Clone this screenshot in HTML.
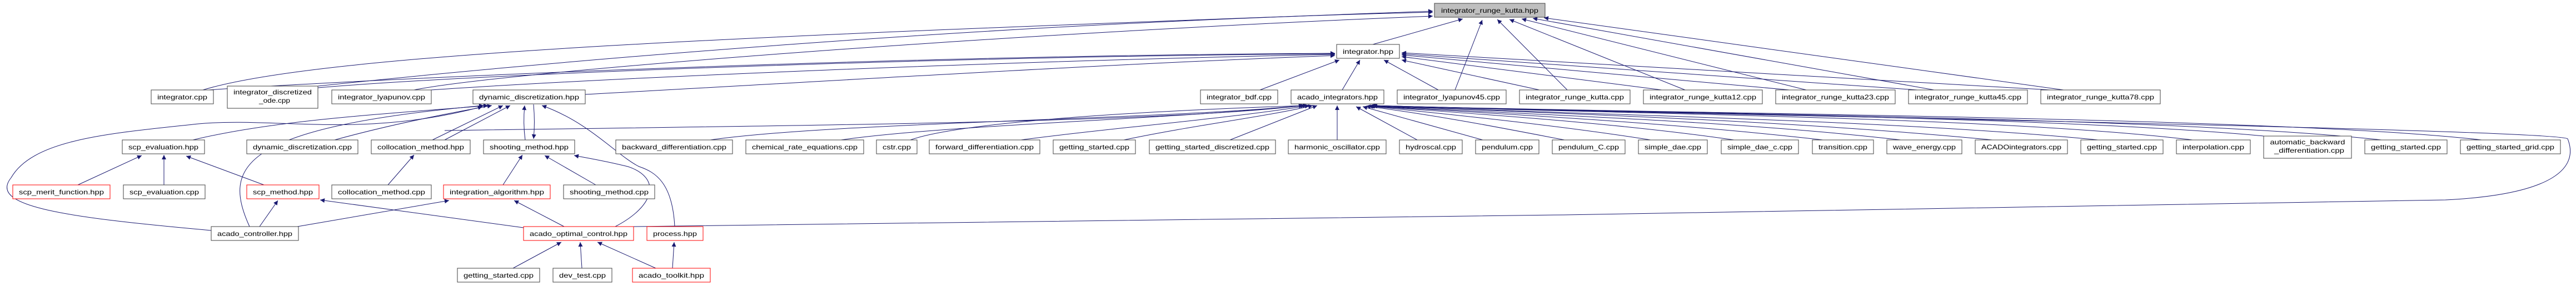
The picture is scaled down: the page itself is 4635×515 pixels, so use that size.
<!DOCTYPE html>
<html><head><meta charset="utf-8"><style>
html,body{margin:0;padding:0;background:#fff;}
svg{display:block;}
text{font-family:"Liberation Sans",sans-serif;font-size:12px;fill:#000;}
.n{fill:#fff;stroke:#404040;stroke-width:1;}
.r{fill:#fff;stroke:#ff0000;stroke-width:1;}
.g{fill:#bfbfbf;stroke:#404040;stroke-width:1;}
.e{fill:none;stroke:#191970;stroke-width:1;marker-end:url(#a);}
</style></head><body>
<svg width="4635" height="515" viewBox="0 0 4635 515" xmlns="http://www.w3.org/2000/svg">
<defs><marker id="a" viewBox="0 0 10 10" refX="10" refY="5" markerWidth="10" markerHeight="8" orient="auto" markerUnits="userSpaceOnUse"><path d="M0,0 L10,5 L0,10 z" fill="#191970"/></marker></defs>
<g>
<path class="e" d="M2470 80 L2632 34"/>
<path class="e" d="M2618 162 L2667 36"/>
<path class="e" d="M2820 162 L2694 35"/>
<path class="e" d="M3032 162 L2716 35"/>
<path class="e" d="M3250 162 L2738 34"/>
<path class="e" d="M3480 162 L2758 33"/>
<path class="e" d="M3713 162 L2778 32"/>
<path class="e" d="M365 162 C600 90, 1500 60, 2578 20"/>
<path class="e" d="M572 155 C1000 110, 1800 40, 2578 22"/>
<path class="e" d="M745 162 C900 130, 1800 60, 2578 29"/>
<path class="e" d="M375 162 C700 140, 1600 100, 2402 96"/>
<path class="e" d="M572 158 C900 130, 1800 100, 2402 97"/>
<path class="e" d="M775 162 C1100 140, 1800 110, 2402 98"/>
<path class="e" d="M1053 170 C1600 140, 2000 115, 2402 100"/>
<path class="e" d="M2267 162 L2410 108"/>
<path class="e" d="M2415 162 L2447 108"/>
<path class="e" d="M2588 162 L2490 108"/>
<path class="e" d="M2770 162 L2522 108"/>
<path class="e" d="M2990 162 L2522 102"/>
<path class="e" d="M3220 162 L2522 99"/>
<path class="e" d="M3450 162 L2522 97"/>
<path class="e" d="M3690 162 L2522 95"/>
<path class="e" d="M347 252 C500 215, 700 205, 878 190"/>
<path class="e" d="M602 252 C700 225, 800 205, 885 190"/>
<path class="e" d="M778 252 L905 190"/>
<path class="e" d="M800 252 L918 190"/>
<path class="e" d="M945 252 C942 230, 942 210, 944 190"/>
<path class="e" d="M960 188 C962 210, 962 230, 960 250"/>
<path class="e" d="M449 408 C400 300, 430 230, 870 190"/>
<path class="e" d="M380 415 C100 390, -20 370, 20 320 C60 250, 200 240, 357 223 C500 210, 650 250, 868 192"/>
<path class="e" d="M1214 408 C1210 330, 1180 310, 1150 300 C1110 280, 1060 220, 975 190"/>
<path class="e" d="M1107 408 C1180 370, 1190 320, 1130 300 C1090 290, 1060 285, 1033 280"/>
<path class="e" d="M905 333 L940 279"/>
<path class="e" d="M1072 333 L980 280"/>
<path class="e" d="M698 333 L745 279"/>
<path class="e" d="M140 333 L255 280"/>
<path class="e" d="M295 333 L295 279"/>
<path class="e" d="M475 333 L335 281"/>
<path class="e" d="M467 408 L500 361"/>
<path class="e" d="M535 408 L808 361"/>
<path class="e" d="M942 410 L576 360"/>
<path class="e" d="M1015 408 L925 361"/>
<path class="e" d="M923 483 L1010 436"/>
<path class="e" d="M1047 483 L1044 436"/>
<path class="e" d="M1180 483 L1075 436"/>
<path class="e" d="M1210 483 L1213 436"/>
<path class="e" d="M1140 408 C2000 398, 3500 380, 4400 360 C4600 350, 4640 300, 4620 250 C4600 235, 3500 215, 2470 191"/>
<path class="e" d="M1278 252 C1500 220, 2100 215, 2345 190"/>
<path class="e" d="M1513 252 C1700 225, 2100 215, 2348 190"/>
<path class="e" d="M1638 252 C1700 230, 1900 205, 2352 190"/>
<path class="e" d="M1837 252 C2000 230, 2200 215, 2356 190"/>
<path class="e" d="M2022 252 C2150 225, 2280 210, 2362 190"/>
<path class="e" d="M2213 252 L2370 190"/>
<path class="e" d="M800 235 C1500 225, 2100 220, 2345 190"/>
<path class="e" d="M2406 252 L2406 190"/>
<path class="e" d="M2550 252 L2440 192"/>
<path class="e" d="M2668 252 L2452 192"/>
<path class="e" d="M2815 252 C2700 230, 2600 210, 2458 191"/>
<path class="e" d="M2970 252 C2800 225, 2600 205, 2462 191"/>
<path class="e" d="M3120 252 C2900 220, 2650 205, 2464 191"/>
<path class="e" d="M3280 252 C3000 220, 2700 205, 2466 191"/>
<path class="e" d="M3420 252 C3100 215, 2700 205, 2466 190"/>
<path class="e" d="M3585 252 C3200 215, 2800 205, 2468 190"/>
<path class="e" d="M3775 252 C3400 215, 2800 205, 2468 190"/>
<path class="e" d="M3945 252 C3600 210, 2900 205, 2468 190"/>
<path class="e" d="M4073 245 C3700 210, 3000 205, 2468 190"/>
<path class="e" d="M4285 252 C3900 210, 3000 205, 2468 190"/>
<path class="e" d="M4465 252 C4100 210, 3000 205, 2468 190"/>
</g>
<g>
<rect class="g" x="2581" y="6" width="199" height="25"/><text x="2680.5" y="23" text-anchor="middle" textLength="175" lengthAdjust="spacingAndGlyphs">integrator_runge_kutta.hpp</text>
<rect class="n" x="2405" y="80" width="113" height="25"/><text x="2461.5" y="97" text-anchor="middle" textLength="91" lengthAdjust="spacingAndGlyphs">integrator.hpp</text>

<rect class="n" x="272" y="162" width="112" height="25"/><text x="328" y="179" text-anchor="middle" textLength="90" lengthAdjust="spacingAndGlyphs">integrator.cpp</text>
<rect class="n" x="409" y="155" width="163" height="40"/><text x="490.5" y="170" text-anchor="middle" textLength="141" lengthAdjust="spacingAndGlyphs">integrator_discretized</text><text x="494" y="185" text-anchor="middle" textLength="56" lengthAdjust="spacingAndGlyphs">_ode.cpp</text>
<rect class="n" x="597" y="162" width="179" height="25"/><text x="686.5" y="179" text-anchor="middle" textLength="157" lengthAdjust="spacingAndGlyphs">integrator_lyapunov.cpp</text>
<rect class="n" x="851" y="162" width="202" height="25"/><text x="952" y="179" text-anchor="middle" textLength="180" lengthAdjust="spacingAndGlyphs">dynamic_discretization.hpp</text>
<rect class="n" x="2160" y="162" width="139" height="25"/><text x="2229.5" y="179" text-anchor="middle" textLength="117" lengthAdjust="spacingAndGlyphs">integrator_bdf.cpp</text>
<rect class="n" x="2323" y="162" width="167" height="25"/><text x="2406.5" y="179" text-anchor="middle" textLength="145" lengthAdjust="spacingAndGlyphs">acado_integrators.hpp</text>
<rect class="n" x="2514" y="162" width="196" height="25"/><text x="2612" y="179" text-anchor="middle" textLength="174" lengthAdjust="spacingAndGlyphs">integrator_lyapunov45.cpp</text>
<rect class="n" x="2734" y="162" width="199" height="25"/><text x="2833.5" y="179" text-anchor="middle" textLength="177" lengthAdjust="spacingAndGlyphs">integrator_runge_kutta.cpp</text>
<rect class="n" x="2957" y="162" width="214" height="25"/><text x="3064" y="179" text-anchor="middle" textLength="192" lengthAdjust="spacingAndGlyphs">integrator_runge_kutta12.cpp</text>
<rect class="n" x="3195" y="162" width="215" height="25"/><text x="3302.5" y="179" text-anchor="middle" textLength="193" lengthAdjust="spacingAndGlyphs">integrator_runge_kutta23.cpp</text>
<rect class="n" x="3434" y="162" width="214" height="25"/><text x="3541" y="179" text-anchor="middle" textLength="192" lengthAdjust="spacingAndGlyphs">integrator_runge_kutta45.cpp</text>
<rect class="n" x="3672" y="162" width="215" height="25"/><text x="3779.5" y="179" text-anchor="middle" textLength="193" lengthAdjust="spacingAndGlyphs">integrator_runge_kutta78.cpp</text>

<rect class="n" x="220" y="252" width="148" height="25"/><text x="294" y="269" text-anchor="middle" textLength="126" lengthAdjust="spacingAndGlyphs">scp_evaluation.hpp</text>
<rect class="n" x="444" y="252" width="200" height="25"/><text x="544" y="269" text-anchor="middle" textLength="178" lengthAdjust="spacingAndGlyphs">dynamic_discretization.cpp</text>
<rect class="n" x="668" y="252" width="178" height="25"/><text x="757" y="269" text-anchor="middle" textLength="156" lengthAdjust="spacingAndGlyphs">collocation_method.hpp</text>
<rect class="n" x="870" y="252" width="164" height="25"/><text x="952" y="269" text-anchor="middle" textLength="142" lengthAdjust="spacingAndGlyphs">shooting_method.hpp</text>
<rect class="n" x="1108" y="252" width="210" height="25"/><text x="1213" y="269" text-anchor="middle" textLength="188" lengthAdjust="spacingAndGlyphs">backward_differentiation.cpp</text>
<rect class="n" x="1342" y="252" width="212" height="25"/><text x="1448" y="269" text-anchor="middle" textLength="190" lengthAdjust="spacingAndGlyphs">chemical_rate_equations.cpp</text>
<rect class="n" x="1577" y="252" width="73" height="25"/><text x="1613.5" y="269" text-anchor="middle" textLength="51" lengthAdjust="spacingAndGlyphs">cstr.cpp</text>
<rect class="n" x="1672" y="252" width="199" height="25"/><text x="1771.5" y="269" text-anchor="middle" textLength="177" lengthAdjust="spacingAndGlyphs">forward_differentiation.cpp</text>
<rect class="n" x="1895" y="252" width="148" height="25"/><text x="1969" y="269" text-anchor="middle" textLength="126" lengthAdjust="spacingAndGlyphs">getting_started.cpp</text>
<rect class="n" x="2068" y="252" width="227" height="25"/><text x="2181.5" y="269" text-anchor="middle" textLength="205" lengthAdjust="spacingAndGlyphs">getting_started_discretized.cpp</text>
<rect class="n" x="2318" y="252" width="176" height="25"/><text x="2406" y="269" text-anchor="middle" textLength="154" lengthAdjust="spacingAndGlyphs">harmonic_oscillator.cpp</text>
<rect class="n" x="2518" y="252" width="113" height="25"/><text x="2574.5" y="269" text-anchor="middle" textLength="91" lengthAdjust="spacingAndGlyphs">hydroscal.cpp</text>
<rect class="n" x="2655" y="252" width="114" height="25"/><text x="2712" y="269" text-anchor="middle" textLength="92" lengthAdjust="spacingAndGlyphs">pendulum.cpp</text>
<rect class="n" x="2793" y="252" width="131" height="25"/><text x="2858.5" y="269" text-anchor="middle" textLength="109" lengthAdjust="spacingAndGlyphs">pendulum_C.cpp</text>
<rect class="n" x="2948" y="252" width="124" height="25"/><text x="3010" y="269" text-anchor="middle" textLength="102" lengthAdjust="spacingAndGlyphs">simple_dae.cpp</text>
<rect class="n" x="3097" y="252" width="139" height="25"/><text x="3166.5" y="269" text-anchor="middle" textLength="117" lengthAdjust="spacingAndGlyphs">simple_dae_c.cpp</text>
<rect class="n" x="3261" y="252" width="110" height="25"/><text x="3316" y="269" text-anchor="middle" textLength="88" lengthAdjust="spacingAndGlyphs">transition.cpp</text>
<rect class="n" x="3395" y="252" width="135" height="25"/><text x="3462.5" y="269" text-anchor="middle" textLength="113" lengthAdjust="spacingAndGlyphs">wave_energy.cpp</text>
<rect class="n" x="3554" y="252" width="166" height="25"/><text x="3637" y="269" text-anchor="middle" textLength="144" lengthAdjust="spacingAndGlyphs">ACADOintegrators.cpp</text>
<rect class="n" x="3744" y="252" width="148" height="25"/><text x="3818" y="269" text-anchor="middle" textLength="126" lengthAdjust="spacingAndGlyphs">getting_started.cpp</text>
<rect class="n" x="3916" y="252" width="133" height="25"/><text x="3982.5" y="269" text-anchor="middle" textLength="111" lengthAdjust="spacingAndGlyphs">interpolation.cpp</text>
<rect class="n" x="4073" y="245" width="158" height="40"/><text x="4152" y="260" text-anchor="middle" textLength="135" lengthAdjust="spacingAndGlyphs">automatic_backward</text><text x="4155" y="275" text-anchor="middle" textLength="126" lengthAdjust="spacingAndGlyphs">_differentiation.cpp</text>
<rect class="n" x="4255" y="252" width="148" height="25"/><text x="4329" y="269" text-anchor="middle" textLength="126" lengthAdjust="spacingAndGlyphs">getting_started.cpp</text>
<rect class="n" x="4427" y="252" width="180" height="25"/><text x="4517" y="269" text-anchor="middle" textLength="158" lengthAdjust="spacingAndGlyphs">getting_started_grid.cpp</text>

<rect class="r" x="23" y="333" width="175" height="25"/><text x="110.5" y="350" text-anchor="middle" textLength="153" lengthAdjust="spacingAndGlyphs">scp_merit_function.hpp</text>
<rect class="n" x="222" y="333" width="147" height="25"/><text x="295.5" y="350" text-anchor="middle" textLength="125" lengthAdjust="spacingAndGlyphs">scp_evaluation.cpp</text>
<rect class="r" x="444" y="333" width="130" height="25"/><text x="509" y="350" text-anchor="middle" textLength="108" lengthAdjust="spacingAndGlyphs">scp_method.hpp</text>
<rect class="n" x="597" y="333" width="179" height="25"/><text x="686.5" y="350" text-anchor="middle" textLength="157" lengthAdjust="spacingAndGlyphs">collocation_method.cpp</text>
<rect class="r" x="798" y="333" width="192" height="25"/><text x="894" y="350" text-anchor="middle" textLength="170" lengthAdjust="spacingAndGlyphs">integration_algorithm.hpp</text>
<rect class="n" x="1014" y="333" width="164" height="25"/><text x="1096" y="350" text-anchor="middle" textLength="142" lengthAdjust="spacingAndGlyphs">shooting_method.cpp</text>

<rect class="n" x="380" y="408" width="157" height="25"/><text x="458.5" y="425" text-anchor="middle" textLength="135" lengthAdjust="spacingAndGlyphs">acado_controller.hpp</text>
<rect class="r" x="942" y="408" width="198" height="25"/><text x="1041" y="425" text-anchor="middle" textLength="176" lengthAdjust="spacingAndGlyphs">acado_optimal_control.hpp</text>
<rect class="r" x="1164" y="408" width="101" height="25"/><text x="1214.5" y="425" text-anchor="middle" textLength="79" lengthAdjust="spacingAndGlyphs">process.hpp</text>

<rect class="n" x="823" y="483" width="148" height="25"/><text x="897" y="500" text-anchor="middle" textLength="126" lengthAdjust="spacingAndGlyphs">getting_started.cpp</text>
<rect class="n" x="995" y="483" width="106" height="25"/><text x="1048" y="500" text-anchor="middle" textLength="84" lengthAdjust="spacingAndGlyphs">dev_test.cpp</text>
<rect class="r" x="1138" y="483" width="140" height="25"/><text x="1208" y="500" text-anchor="middle" textLength="118" lengthAdjust="spacingAndGlyphs">acado_toolkit.hpp</text>
</g>
</svg>
</body></html>
